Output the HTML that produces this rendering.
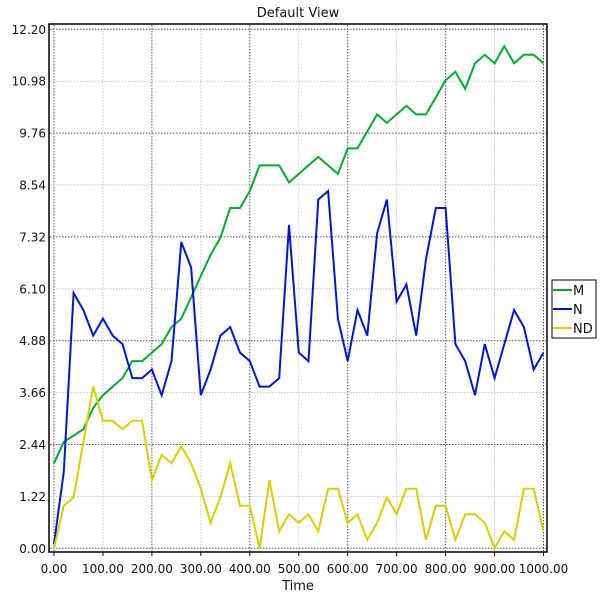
<!DOCTYPE html>
<html><head><meta charset="utf-8"><style>
html,body{margin:0;padding:0;background:#fff;}
svg{display:block;font-family:"DejaVu Sans","Liberation Sans",sans-serif;}
</style></head><body>
<svg id="chart" width="600" height="600" viewBox="0 0 600 600">
<text x="298" y="17" text-anchor="middle" font-size="13" fill="#111">Default View</text>
<g id="grid"></g>
<rect x="49" y="24" width="498" height="528" fill="none" stroke="#000" stroke-width="1.5"/>
<g id="ticks"></g>
<g id="series"></g>
<text x="298" y="590" text-anchor="middle" font-size="13" fill="#111">Time</text>
<g>
<rect x="552" y="280" width="44" height="58" fill="#fff" stroke="#000" stroke-width="1"/>
<g><line x1="553" y1="290" x2="572" y2="290" stroke="#00aa33" stroke-width="2"/><text x="573" y="295" font-size="13" fill="#111">M</text></g>
<g><line x1="553" y1="309" x2="572" y2="309" stroke="#0018cc" stroke-width="2"/><text x="573" y="314" font-size="13" fill="#111">N</text></g>
<g><line x1="553" y1="328" x2="572" y2="328" stroke="#ddcc00" stroke-width="2"/><text x="573" y="333" font-size="13" fill="#111">ND</text></g>
</g>
</svg>
<script>
const xTicks = [0,100,200,300,400,500,600,700,800,900,1000];
const yTicks = [0,1.22,2.44,3.66,4.88,6.10,7.32,8.54,9.76,10.98,12.20];
const times = [0,20,40,60,80,100,120,140,160,180,200,220,240,260,280,300,320,340,360,380,400,420,440,460,480,500,520,540,560,580,600,620,640,660,680,700,720,740,760,780,800,820,840,860,880,900,920,940,960,980,1000];
const seriesM = [2.0,2.5,2.65,2.8,3.3,3.6,3.8,4.0,4.4,4.4,4.6,4.8,5.2,5.4,5.9,6.4,6.9,7.3,8.0,8.0,8.4,9.0,9.0,9.0,8.6,8.8,9.0,9.2,9.0,8.8,9.4,9.4,9.8,10.2,10.0,10.2,10.4,10.2,10.2,10.6,11.0,11.2,10.8,11.4,11.6,11.4,11.8,11.4,11.6,11.6,11.4];
const seriesN = [0.1,1.8,6.0,5.6,5.0,5.4,5.0,4.8,4.0,4.0,4.2,3.6,4.4,7.2,6.6,3.6,4.2,5.0,5.2,4.6,4.4,3.8,3.8,4.0,7.6,4.6,4.4,8.2,8.4,5.4,4.4,5.6,5.0,7.4,8.2,5.8,6.2,5.0,6.8,8.0,8.0,4.8,4.4,3.6,4.8,4.0,4.8,5.6,5.2,4.2,4.6];
const seriesND = [0.0,1.0,1.2,2.5,3.8,3.0,3.0,2.8,3.0,3.0,1.6,2.2,2.0,2.4,2.0,1.4,0.6,1.2,2.0,1.0,1.0,0.0,1.6,0.4,0.8,0.6,0.8,0.4,1.4,1.4,0.6,0.8,0.2,0.6,1.2,0.8,1.4,1.4,0.2,1.0,1.0,0.2,0.8,0.8,0.6,0.0,0.4,0.2,1.4,1.4,0.4];

const NS='http://www.w3.org/2000/svg';
const xs = v => 54 + v*(489.5/1000);
const ys = v => 548.3 - v*(519/12.2);
function mk(tag, attrs, parent){const e=document.createElementNS(NS,tag);for(const k in attrs)e.setAttribute(k,attrs[k]);parent.appendChild(e);return e;}
const grid=document.getElementById('grid'), ticks=document.getElementById('ticks'), series=document.getElementById('series');
xTicks.forEach((v,i)=>{
  const col = i%2===0 ? '#555' : '#c4c4c4';
  const l=mk('line',{x1:xs(v),x2:xs(v),y1:25,y2:551,stroke:col,'stroke-dasharray':'1.5,1.5'},grid);
  
  
  const t=mk('line',{x1:xs(v),x2:xs(v),y1:552,y2:556,stroke:'#000'},ticks);
  
  
  const tx=mk('text',{x:xs(v),y:573,'text-anchor':'middle','font-size':'12',fill:'#111'},ticks);
  tx.textContent=v.toFixed(2);
  
  
});
yTicks.forEach((v,i)=>{
  const col = i%2===0 ? '#555' : '#c4c4c4';
  const l=mk('line',{x1:50,x2:546,y1:ys(v),y2:ys(v),stroke:col,'stroke-dasharray':'1.5,1.5'},grid);
  
  
  const tx=mk('text',{x:46,y:ys(v)+4.5,'text-anchor':'end','font-size':'12',fill:'#111'},ticks);
  tx.textContent=v.toFixed(2);
  
  
});
function draw(vals,color,name){
  const pts=vals.map((v,i)=>xs(times[i]).toFixed(1)+','+ys(v).toFixed(1)).join(' ');
  const p=mk('polyline',{points:pts,fill:'none',stroke:color,'stroke-width':'2','stroke-linejoin':'miter'},series);
  
  
}
draw(seriesM,'#00aa33','series-m-line');
draw(seriesN,'#0018cc','series-n-line');
draw(seriesND,'#ddcc00','series-nd-line');
</script>
</body></html>
